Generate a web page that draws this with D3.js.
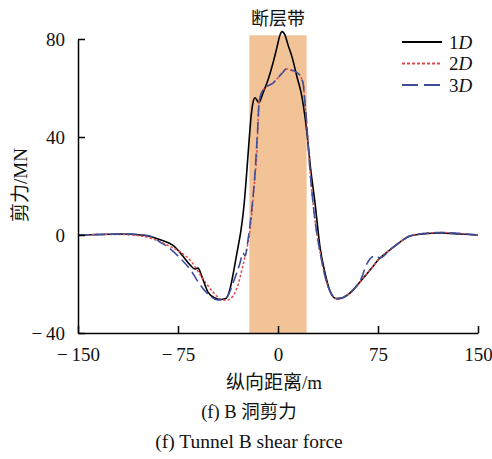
<!DOCTYPE html>
<html>
<head>
<meta charset="utf-8">
<script src="https://cdn.jsdelivr.net/npm/d3@7"></script>
<style>
  body { margin: 0; background: #fff; }
  text { font-family: "Liberation Serif", "Noto Sans CJK SC", serif; fill: #111; }
</style>
</head>
<body>
<div id="chart"></div>
<script>
// values: [longitudinal distance m, shear force MN]
const series1D = [[-150,0],[-133.5,0.2],[-118.5,0.4],[-103.5,0],[-94.5,-0.8],[-87.75,-2],[-81.75,-3.3],[-78,-4.5],
  [-72,-8.2],[-66,-12.2],[-62.25,-13.9],[-60,-13.5],[-57,-17.1],[-52.5,-23.3],[-47.25,-25.7],[-43.5,-26.3],
  [-39,-25.9],[-36,-22],[-33,-14],[-30,-5],[-27.75,2],[-25.5,12],[-23.25,27],[-21.75,38],[-20.25,48],
  [-18.75,54],[-17.25,56],[-14.25,54],[-11.25,58],[-7.5,63.3],[-3.75,70.2],[-0.75,76.7],[1.5,81.6],[3,83],
  [5.25,81.6],[7.5,77.6],[10.5,72.7],[14.25,64.5],[18,56.3],[20.25,48.2],[22.5,37.6],[24,29.4],[27.75,13.1],
  [31.5,-4.9],[35.25,-15.5],[39,-22.9],[43.5,-25.9],[48,-25.7],[54,-23.7],[61.5,-19.2],[69,-14.3],[76.5,-9.4],
  [84,-6.1],[91.5,-2.9],[99,-0.4],[108.75,0.4],[121.5,0.8],[136.5,0.4],[150,0]];

const series2D = [[-150,0],[-133.5,0.2],[-118.5,0.2],[-108.75,0],[-96,-1.2],[-83.25,-4.1],[-73.5,-6.9],[-66,-10.2],
  [-56.25,-17.9],[-48.75,-23.3],[-41.25,-26.5],[-37.5,-26.5],[-33.75,-24.9],[-30,-20.4],[-26.25,-12.2],
  [-23.25,-5.3],[-21,2],[-18.75,14.3],[-17.25,23.7],[-15.75,34.7],[-15,45.7],[-14.25,53.9],[-12,58.4],
  [-9.75,60],[-3.75,62],[3,66],[6.75,67.8],[10.5,67],[15,66],[18.75,62],[20.25,53.9],[21.75,44],[22.5,37.6],
  [24,26.5],[27.75,6.1],[31.5,-6.9],[36,-18.4],[39.75,-23.7],[44.25,-26.1],[48.75,-25.5],[54,-23.7],
  [61.5,-19.2],[69,-14.3],[76.5,-9.4],[84,-6.1],[91.5,-2.9],[99,-0.4],[108.75,0.6],[121.5,1],[136.5,0.6],[150,0]];

const series3D = [[-150,0],[-133.5,0.2],[-111,0.4],[-96,-0.4],[-88.5,-2.9],[-82.5,-4.9],[-73.5,-9.4],[-64.5,-15.1],
  [-60.75,-18.4],[-53.25,-23.7],[-45,-26.5],[-38.25,-25.3],[-33.75,-19.6],[-28.5,-11.4],[-26.25,-7.3],
  [-24.75,-8.6],[-22.5,-2],[-21,4.1],[-19.5,11.4],[-17.25,25.3],[-15.75,38.8],[-15,45.7],[-14.25,53.9],
  [-12,58.4],[-9.75,60],[-3.75,62],[3,66],[6.75,68],[10.5,67.3],[15,66],[18.75,62],[20.25,53.9],[21.75,44],
  [22.5,37.6],[24,26.5],[27.75,6.1],[31.5,-6.9],[36,-18.4],[39.75,-23.7],[44.25,-26.1],[48.75,-25.5],
  [54,-23.7],[60,-20],[63,-17.1],[65.25,-13.5],[67.5,-11],[70.5,-9],[73.5,-8.6],[76.5,-9.4],[84,-6.1],
  [91.5,-2.9],[99,-0.4],[108.75,0.6],[121.5,1],[136.5,0.6],[150,0]];

const faultZone = [-21.5, 21.5, 81.5];   // x from, x to, top value
const xTicks = [-150, -75, 0, 75, 150];
const yTicks = [-40, 0, 40, 80];
const legendNames = ["1", "2", "3"];

const width = 492, height = 459;
const margin = {top: 39, right: 14, bottom: 126, left: 78};
const w = width - margin.left - margin.right,
      h = height - margin.top - margin.bottom;

const svg = d3.select("#chart").append("svg")
    .attr("width", width)
    .attr("height", height);
const g = svg.append("g")
    .attr("transform", `translate(${margin.left}, ${margin.top})`);

const x = d3.scaleLinear().domain([-150, 150]).range([0, w]);
const y = d3.scaleLinear().domain([-40, 80]).range([h, 0]);

// fault zone band
g.append("rect")
  .attr("x", x(faultZone[0]))
  .attr("y", y(faultZone[2]))
  .attr("width", x(faultZone[1]) - x(faultZone[0]))
  .attr("height", y(-40) - y(faultZone[2]))
  .attr("fill", "#f2c397");

g.append("text")
  .attr("x", x((faultZone[0] + faultZone[1]) / 2))
  .attr("y", -14)
  .attr("text-anchor", "middle")
  .style("font-size", "18px")
  .text("断层带");

// lines
const line = d3.line()
  .x(d => x(d[0]))
  .y(d => y(d[1]))
  .curve(d3.curveMonotoneX);

const styles = [
  {data: series1D, color: "#000000", dash: null, width: 1.6},
  {data: series2D, color: "#e0484a", dash: "2.5,2", width: 1.5},
  {data: series3D, color: "#3d4f9c", dash: "11,5", width: 1.6}
];

g.selectAll(".series")
  .data(styles)
  .join("path")
    .attr("class", "series")
    .attr("d", d => line(d.data))
    .attr("fill", "none")
    .attr("stroke", d => d.color)
    .attr("stroke-width", d => d.width)
    .attr("stroke-dasharray", d => d.dash);

// axes
const fmt = v => v < 0 ? "\u2212\u2009" + Math.abs(v) : String(v);

const xAxis = g.append("g")
  .attr("transform", `translate(0, ${h})`)
  .call(d3.axisBottom(x).tickValues(xTicks).tickSizeInner(-7).tickSizeOuter(0).tickPadding(15).tickFormat(fmt));
const yAxis = g.append("g")
  .call(d3.axisLeft(y).tickValues(yTicks).tickSizeInner(-7).tickSizeOuter(0).tickPadding(13).tickFormat(fmt));

[xAxis, yAxis].forEach(a => {
  a.select(".domain").attr("stroke", "#000").attr("stroke-width", 1.5);
  a.selectAll(".tick line").attr("stroke", "#000").attr("stroke-width", 1.5);
  a.selectAll(".tick text")
    .style("font-family", "Liberation Serif")
    .style("font-size", "19px")
    .attr("fill", "#111");
});
yAxis.selectAll(".tick text").attr("dy", "0.35em");

// axis labels
g.append("text")
  .attr("transform", `translate(${-58}, ${h / 2 - 1}) rotate(-90)`)
  .attr("text-anchor", "middle")
  .attr("dy", "0.35em")
  .style("font-size", "19px")
  .text("剪力/MN");

g.append("text")
  .attr("x", w / 2 - 4)
  .attr("y", h + 56)
  .attr("text-anchor", "middle")
  .style("font-size", "19px")
  .text("纵向距离/m");

svg.append("text")
  .attr("x", 249)
  .attr("y", 418)
  .attr("text-anchor", "middle")
  .style("font-size", "18.5px")
  .text("(f) B 洞剪力");

svg.append("text")
  .attr("x", 249)
  .attr("y", 448)
  .attr("text-anchor", "middle")
  .style("font-size", "19.5px")
  .text("(f) Tunnel B shear force");

// legend
const legend = g.selectAll(".legend")
  .data(styles)
  .join("g")
    .attr("class", "legend")
    .attr("transform", (d, i) => `translate(${402 - margin.left}, ${42 - margin.top + i * 21.5})`);

legend.append("line")
  .attr("x1", 0).attr("x2", 40)
  .attr("stroke", d => d.color)
  .attr("stroke-width", d => d.width + 0.3)
  .attr("stroke-dasharray", d => d.dash ? (d.dash === "11,5" ? "16,6" : "3,2") : null);

const lt = legend.append("text")
  .attr("x", 47)
  .attr("dy", "0.35em")
  .style("font-size", "19px");
lt.append("tspan").text((d, i) => legendNames[i]);
lt.append("tspan").style("font-style", "italic").text("D");
</script>
</body>
</html>
